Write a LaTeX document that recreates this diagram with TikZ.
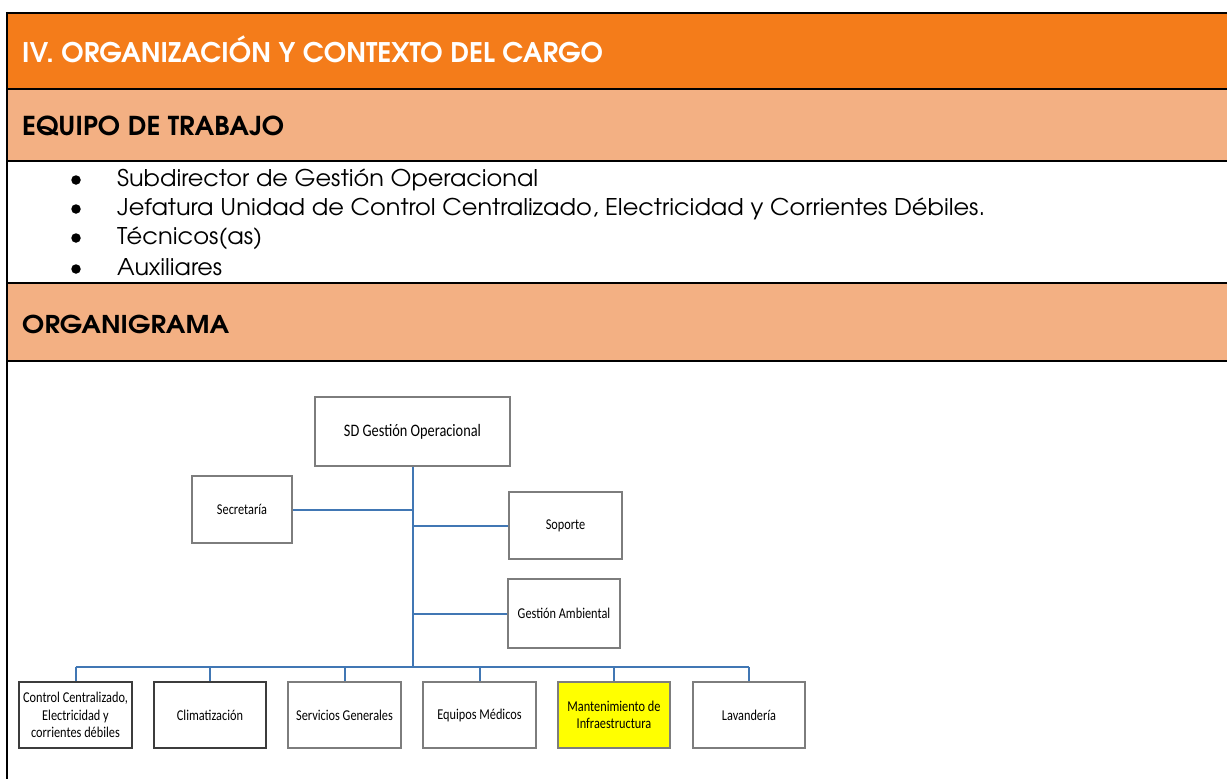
\documentclass[tikz,border=0pt]{standalone}
\usepackage{fontspec}
\usepackage{graphicx}
\setmainfont{TeX Gyre Adventor}
\newfontfamily\calib[FakeStretch=0.82]{Carlito}
\definecolor{hdr}{RGB}{244,124,26}
\definecolor{sub}{RGB}{243,176,131}
\definecolor{lnk}{RGB}{65,119,180}
\definecolor{bxgray}{RGB}{125,125,125}
\definecolor{bxdark}{RGB}{60,60,60}
\definecolor{ocyellow}{RGB}{255,255,0}
\newcommand\fitw[2]{\resizebox{#1pt}{\height}{#2}}
\begin{document}
\begin{tikzpicture}[x=1pt,y=-1pt,
  hdrtext/.style={anchor=base west, inner sep=0, font=\fontsize{26}{30}\selectfont\bfseries},
  itemtext/.style={anchor=base west, inner sep=0, font=\fontsize{23}{27}\selectfont},
  bulletdot/.style={circle, fill=black, inner sep=0, minimum size=9.5pt},
  ocbox/.style={draw=bxgray, line width=1.4pt, fill=white, align=center,
    font=\calib\fontsize{15}{17.5}\selectfont, inner sep=0},
  ocdark/.style={ocbox, draw=bxdark, line width=1.9pt},
  link/.style={draw=lnk, line width=2pt},
  rule/.style={draw=black, line width=2.5pt}
]
\useasboundingbox (0,0) rectangle (1227,779);
% bands
\fill[hdr] (7,13) rectangle (1230,89);
\fill[sub] (7,89) rectangle (1230,161);
\fill[sub] (7,283) rectangle (1230,361);
% rules
\draw[rule] (5.75,13) -- (1230,13);
\draw[rule] (7,89) -- (1230,89);
\draw[rule] (7,161) -- (1230,161);
\draw[rule] (7,283) -- (1230,283);
\draw[rule] (7,361) -- (1230,361);
\draw[rule] (7,11.75) -- (7,782);
% headings
\node[hdrtext, text=white, font=\fontsize{27}{30}\selectfont\bfseries] (title) at (22,62) {\fitw{581}{IV. ORGANIZACIÓN Y CONTEXTO DEL CARGO}};
\node[hdrtext] (equipo) at (22,135) {\fitw{262}{EQUIPO DE TRABAJO}};
\node[hdrtext, font=\fontsize{24.5}{28}\selectfont\bfseries] (organi) at (22,333) {\fitw{207}{ORGANIGRAMA}};
% list
\node[bulletdot] (b1) at (76,180) {};
\node[bulletdot] (b2) at (76,209) {};
\node[bulletdot] (b3) at (76,238) {};
\node[bulletdot] (b4) at (76,269) {};
\node[itemtext] (i1) at (117,186) {\fitw{421}{Subdirector de Gestión Operacional}};
\node[itemtext] (i2) at (117,215) {\fitw{868}{Jefatura Unidad de Control Centralizado, Electricidad y Corrientes Débiles.}};
\node[itemtext] (i3) at (117,244) {\fitw{145}{Técnicos(as)}};
\node[itemtext] (i4) at (117,275) {\fitw{105}{Auxiliares}};
% org chart
\node[ocbox, minimum width=195pt, minimum height=69pt, font=\calib\fontsize{17.5}{20}\selectfont] (sd) at (412.5,431.5) {SD Gestión Operacional};
\node[ocbox, minimum width=100pt, minimum height=67pt] (sec) at (242,509.5) {Secretaría};
\node[ocbox, minimum width=113pt, minimum height=67pt] (sop) at (565.5,525.5) {Soporte};
\node[ocbox, minimum width=112pt, minimum height=69pt] (gam) at (564,613.5) {Gestión Ambiental};
\node[ocdark, minimum width=113pt, minimum height=66pt] (ctl) at (75.5,715) {Control Centralizado,\\Electricidad y\\corrientes débiles};
\node[ocdark, minimum width=112pt, minimum height=66pt] (cli) at (210,715) {Climatización};
\node[ocbox, minimum width=113pt, minimum height=66pt] (ser) at (344.5,715) {Servicios Generales};
\node[ocbox, minimum width=113pt, minimum height=66pt] (equ) at (479.5,715) {Equipos Médicos};
\node[ocbox, fill=ocyellow, minimum width=112pt, minimum height=66pt] (man) at (614,715) {Mantenimiento de\\Infraestructura};
\node[ocbox, minimum width=112pt, minimum height=66pt] (lav) at (749,715) {Lavandería};
% connectors
\coordinate (trunkbot) at (412.5,667);
\coordinate (busL) at (75.5,667);
\coordinate (busR) at (749,667);
\draw[link] (sd.south) -- (trunkbot);
\draw[link] (sec.east) -- (sec.east -| sd.south);
\draw[link] (sop.west) -- (sop.west -| sd.south);
\draw[link] (gam.west) -- (gam.west -| sd.south);
\draw[link] (busL) -- (busR);
\foreach \n in {ctl,cli,ser,equ,man,lav}{
  \draw[link] (\n.north) -- (\n.north |- trunkbot);
}
\end{tikzpicture}
\end{document}
